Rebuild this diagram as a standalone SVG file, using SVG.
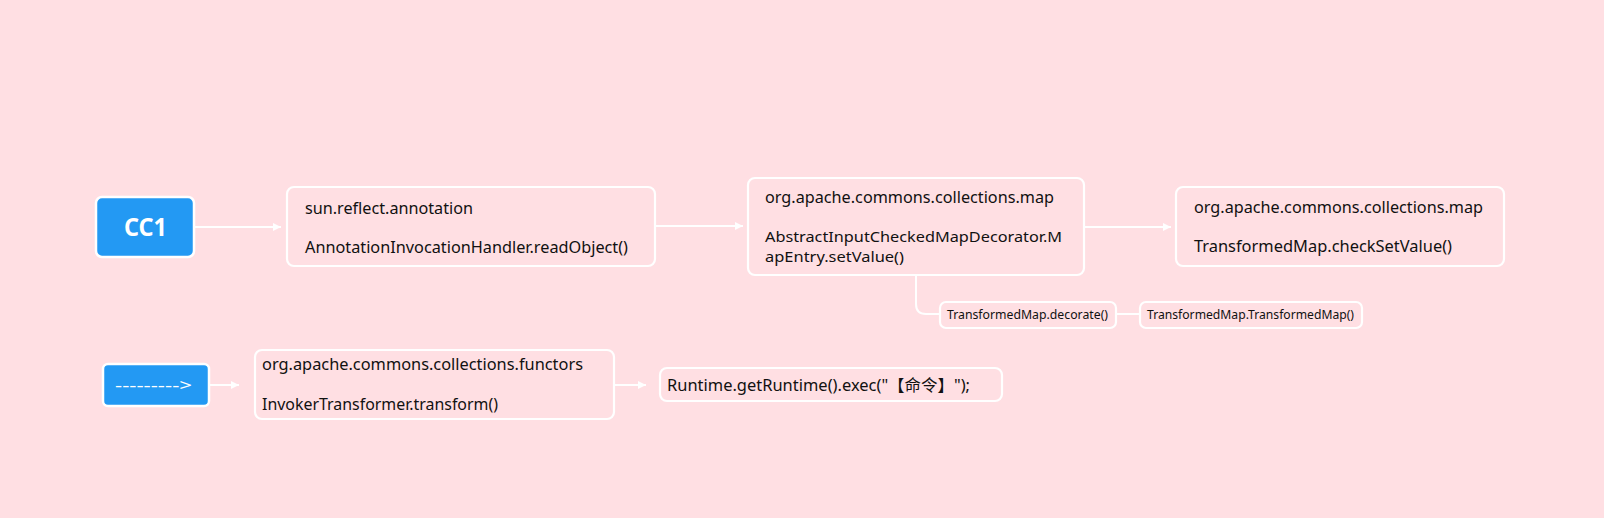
<svg xmlns="http://www.w3.org/2000/svg" width="1604" height="518" viewBox="0 0 1604 518">
<defs>
<marker id="ah" viewBox="0 0 10 10" refX="10" refY="5" markerWidth="8" markerHeight="8" markerUnits="userSpaceOnUse" orient="auto">
<path d="M0,0 L10,5 L0,10 Z" fill="#ffffff"/>
</marker>
<style>
.box{fill:none;stroke:#ffffff;stroke-width:2.2}
.blue{fill:#2399F3;stroke:#ffffff;stroke-width:2.5}
.t{font-family:"Noto Sans","Liberation Sans","Noto Sans CJK SC",sans-serif;font-size:16px;fill:#111111}
.tt{font-family:"Noto Sans","Liberation Sans",sans-serif;font-size:14.5px;fill:#111111}
.s{font-family:"Noto Sans","Liberation Sans",sans-serif;font-size:12px;fill:#111111}
.w{font-family:"Noto Sans","Liberation Sans",sans-serif;fill:#ffffff}
.c{fill:none;stroke:#ffffff;stroke-width:2}
</style>
</defs>
<rect width="1604" height="518" fill="#FFDFE3"/>
<g id="connectors">
<line class="c" x1="195" y1="227" x2="281" y2="227" marker-end="url(#ah)"/>
<line class="c" x1="656" y1="226" x2="743" y2="226" marker-end="url(#ah)"/>
<line class="c" x1="1085" y1="227" x2="1171" y2="227" marker-end="url(#ah)"/>
<path class="c" d="M916,276 L916,304 Q916,314 926,314 L940,314"/>
<line class="c" x1="1116" y1="314" x2="1140" y2="314"/>
<line class="c" x1="210" y1="385" x2="239" y2="385" marker-end="url(#ah)"/>
<line class="c" x1="615" y1="385" x2="646" y2="385" marker-end="url(#ah)"/>
</g>
<g id="cc1">
<rect class="blue" x="96" y="197" width="98" height="60" rx="6"/>
<text class="w" x="124" y="236" font-size="25" font-weight="bold" textLength="43" lengthAdjust="spacingAndGlyphs">CC1</text>
</g>
<g id="readObject">
<rect class="box" x="287" y="187" width="368" height="79" rx="7"/>
<text class="t" x="305" y="214" textLength="168" lengthAdjust="spacingAndGlyphs">sun.reflect.annotation</text>
<text class="t" x="305" y="253" textLength="323" lengthAdjust="spacingAndGlyphs">AnnotationInvocationHandler.readObject()</text>
</g>
<g id="setValue">
<rect class="box" x="748" y="178" width="336" height="97" rx="7"/>
<text class="t" x="765" y="203" textLength="289" lengthAdjust="spacingAndGlyphs">org.apache.commons.collections.map</text>
<text class="tt" x="765" y="242" textLength="297" lengthAdjust="spacingAndGlyphs">AbstractInputCheckedMapDecorator.M</text>
<text class="tt" x="765" y="262" textLength="139" lengthAdjust="spacingAndGlyphs">apEntry.setValue()</text>
</g>
<g id="checkSetValue">
<rect class="box" x="1176" y="187" width="328" height="79" rx="7"/>
<text class="t" x="1194" y="213" textLength="289" lengthAdjust="spacingAndGlyphs">org.apache.commons.collections.map</text>
<text class="t" x="1194" y="252" textLength="258" lengthAdjust="spacingAndGlyphs">TransformedMap.checkSetValue()</text>
</g>
<g id="decorate">
<rect class="box" x="940" y="302" width="176" height="26" rx="6"/>
<text class="s" x="947" y="319" textLength="161" lengthAdjust="spacingAndGlyphs">TransformedMap.decorate()</text>
</g>
<g id="transformedMapCtor">
<rect class="box" x="1140" y="302" width="222" height="26" rx="6"/>
<text class="s" x="1147" y="319" textLength="207" lengthAdjust="spacingAndGlyphs">TransformedMap.TransformedMap()</text>
</g>
<g id="arrowNode">
<rect class="blue" x="103" y="364" width="106" height="42" rx="5"/>
<text class="w" x="115" y="391" font-size="16" textLength="77" lengthAdjust="spacingAndGlyphs">---------&gt;</text>
</g>
<g id="transform">
<rect class="box" x="255" y="350" width="359" height="69" rx="7"/>
<text class="t" x="262" y="370" textLength="321" lengthAdjust="spacingAndGlyphs">org.apache.commons.collections.functors</text>
<text class="t" x="262" y="410" textLength="236" lengthAdjust="spacingAndGlyphs">InvokerTransformer.transform()</text>
</g>
<g id="exec">
<rect class="box" x="660" y="368" width="342" height="33" rx="7"/>
<text class="t" x="667" y="391" textLength="303" lengthAdjust="spacingAndGlyphs">Runtime.getRuntime().exec("【命令】");</text>
</g>
</svg>
